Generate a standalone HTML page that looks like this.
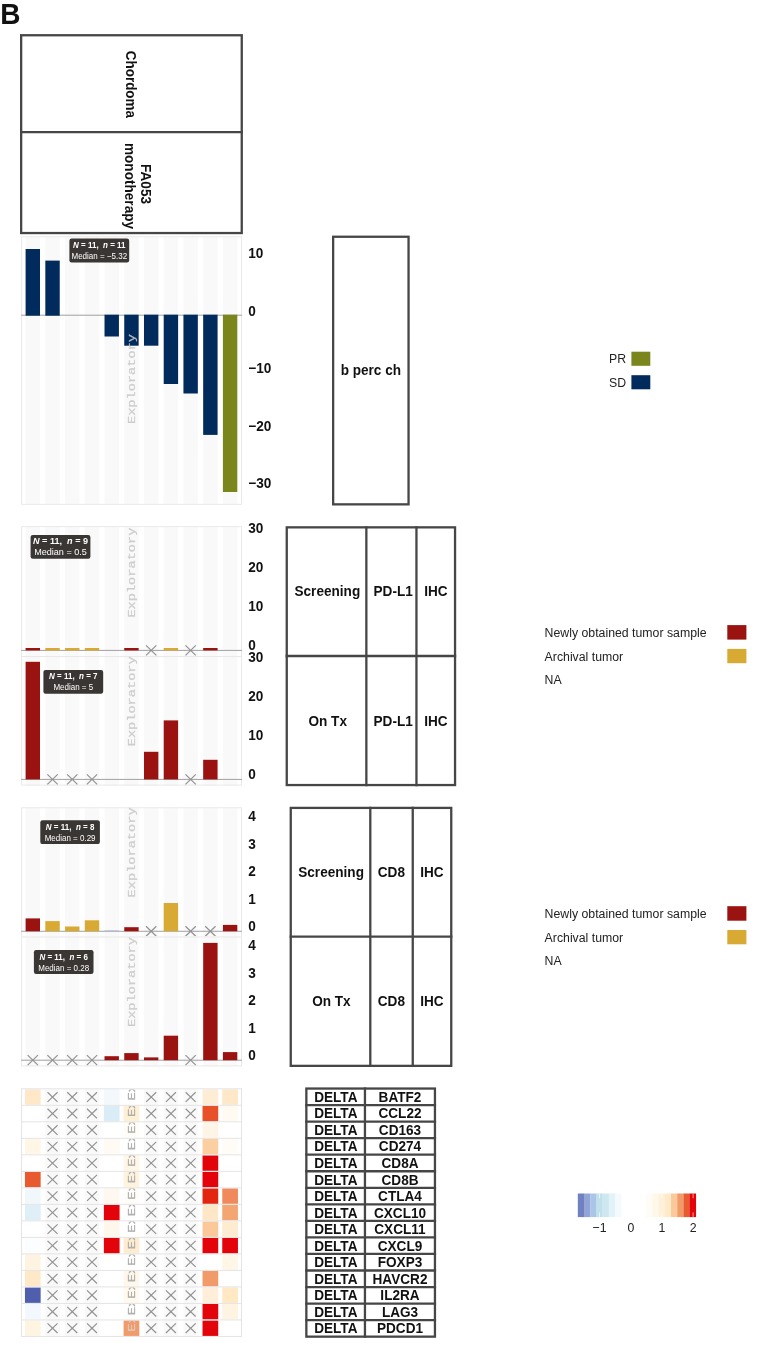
<!DOCTYPE html>
<html lang="en"><head><meta charset="utf-8"><title>Figure B</title>
<style>html,body{margin:0;padding:0;background:#fff}svg{display:block;will-change:transform}</style></head>
<body>
<svg width="783" height="1369" viewBox="0 0 783 1369">
<rect width="783" height="1369" fill="#fff"/>
<text transform="translate(0.20 23.60) scale(1 1.05)" font-family='"Liberation Sans", sans-serif' font-size="28.0" font-weight="bold" text-anchor="start" fill="#111">B</text>
<rect x="21.15" y="35.25" width="220.60" height="197.80" fill="#fff" stroke="#464646" stroke-width="2.3"/>
<line x1="20.00" y1="132.20" x2="242.90" y2="132.20" stroke="#464646" stroke-width="2.3"/>
<text transform="translate(126.2 50.8) rotate(90) scale(1 1.05)" font-family='"Liberation Sans", sans-serif' font-size="13.45" font-weight="bold" fill="#111">Chordoma</text>
<text transform="translate(140.9 184.0) rotate(90) scale(1 1.05)" font-family='"Liberation Sans", sans-serif' font-size="13.6" font-weight="bold" text-anchor="middle" fill="#111">FA053</text>
<text transform="translate(124.6 186.0) rotate(90) scale(1 1.05)" font-family='"Liberation Sans", sans-serif' font-size="13.6" font-weight="bold" text-anchor="middle" fill="#111">monotherapy</text>
<rect x="21.10" y="236.30" width="220.90" height="268.55" fill="#fff"/>
<rect x="25.60" y="236.30" width="14.40" height="268.55" fill="#f9f9f9"/>
<rect x="45.33" y="236.30" width="14.40" height="268.55" fill="#f9f9f9"/>
<rect x="65.06" y="236.30" width="14.40" height="268.55" fill="#f9f9f9"/>
<rect x="84.79" y="236.30" width="14.40" height="268.55" fill="#f9f9f9"/>
<rect x="104.52" y="236.30" width="14.40" height="268.55" fill="#f9f9f9"/>
<rect x="124.25" y="236.30" width="14.40" height="268.55" fill="#f9f9f9"/>
<rect x="143.98" y="236.30" width="14.40" height="268.55" fill="#f9f9f9"/>
<rect x="163.71" y="236.30" width="14.40" height="268.55" fill="#f9f9f9"/>
<rect x="183.44" y="236.30" width="14.40" height="268.55" fill="#f9f9f9"/>
<rect x="203.17" y="236.30" width="14.40" height="268.55" fill="#f9f9f9"/>
<rect x="222.90" y="236.30" width="14.40" height="268.55" fill="#f9f9f9"/>
<rect x="21.60" y="236.80" width="219.90" height="267.55" fill="none" stroke="#e9e9e9" stroke-width="1"/>
<line x1="21.10" y1="315.20" x2="242.00" y2="315.20" stroke="#a0a0a0" stroke-width="1.0"/>
<rect x="25.60" y="249.00" width="14.40" height="66.70" fill="#002b5c"/>
<rect x="45.33" y="260.60" width="14.40" height="55.10" fill="#002b5c"/>
<rect x="104.52" y="314.70" width="14.40" height="21.80" fill="#002b5c"/>
<rect x="124.25" y="314.70" width="14.40" height="31.00" fill="#002b5c"/>
<rect x="143.98" y="314.70" width="14.40" height="31.00" fill="#002b5c"/>
<rect x="163.71" y="314.70" width="14.40" height="69.30" fill="#002b5c"/>
<rect x="183.44" y="314.70" width="14.40" height="78.80" fill="#002b5c"/>
<rect x="203.17" y="314.70" width="14.40" height="120.20" fill="#002b5c"/>
<rect x="222.90" y="314.70" width="14.40" height="177.30" fill="#7a861c"/>
<clipPath id="c1"><rect x="21.1" y="236.30" width="220.9" height="190.70"/></clipPath>
<g clip-path="url(#c1)"><text transform="translate(135.40 424.00) rotate(-90) scale(1.1 0.88)" font-family='"Liberation Mono", monospace' font-size="12.4" fill="#c9c9c9" fill-opacity="0.9" stroke="#c9c9c9" stroke-width="0.25" stroke-opacity="0.9">Exploratory</text></g>
<rect x="69.40" y="238.60" width="59.80" height="23.80" rx="2.2" ry="2.2" fill="#3a3634"/>
<text transform="translate(99.30 247.80) scale(0.965 1.05)" font-family='"Liberation Sans", sans-serif' font-size="8.3" font-weight="bold" text-anchor="middle" fill="#fff" xml:space="preserve"><tspan font-style="italic">N</tspan> = 11,  <tspan font-style="italic">n</tspan> = 11</text>
<text transform="translate(99.30 258.80) scale(0.965 1.05)" font-family='"Liberation Sans", sans-serif' font-size="8.3" text-anchor="middle" fill="#fff">Median = −5.32</text>
<text transform="translate(248.30 257.90) scale(1 1.05)" font-family='"Liberation Sans", sans-serif' font-size="13.6" font-weight="bold" text-anchor="start" fill="#111">10</text>
<text transform="translate(248.30 315.50) scale(1 1.05)" font-family='"Liberation Sans", sans-serif' font-size="13.6" font-weight="bold" text-anchor="start" fill="#111">0</text>
<text transform="translate(248.30 373.10) scale(1 1.05)" font-family='"Liberation Sans", sans-serif' font-size="13.6" font-weight="bold" text-anchor="start" fill="#111">−10</text>
<text transform="translate(248.30 430.60) scale(1 1.05)" font-family='"Liberation Sans", sans-serif' font-size="13.6" font-weight="bold" text-anchor="start" fill="#111">−20</text>
<text transform="translate(248.30 488.20) scale(1 1.05)" font-family='"Liberation Sans", sans-serif' font-size="13.6" font-weight="bold" text-anchor="start" fill="#111">−30</text>
<rect x="333.15" y="236.75" width="75.40" height="267.60" fill="#fff" stroke="#464646" stroke-width="2.3"/>
<text transform="translate(370.85 375.40) scale(1 1.05)" font-family='"Liberation Sans", sans-serif' font-size="13.6" font-weight="bold" text-anchor="middle" fill="#111">b perc ch</text>
<text transform="translate(609.00 362.90) scale(1 1.05)" font-family='"Liberation Sans", sans-serif' font-size="12.3" font-weight="normal" text-anchor="start" fill="#222">PR</text>
<text transform="translate(609.00 386.50) scale(1 1.05)" font-family='"Liberation Sans", sans-serif' font-size="12.3" font-weight="normal" text-anchor="start" fill="#222">SD</text>
<rect x="631.40" y="351.70" width="18.90" height="14.10" fill="#7a861c"/>
<rect x="631.40" y="375.20" width="18.90" height="14.10" fill="#002b5c"/>
<rect x="21.10" y="526.15" width="220.90" height="130.90" fill="#fff"/>
<rect x="25.60" y="526.15" width="14.40" height="130.90" fill="#f9f9f9"/>
<rect x="45.33" y="526.15" width="14.40" height="130.90" fill="#f9f9f9"/>
<rect x="65.06" y="526.15" width="14.40" height="130.90" fill="#f9f9f9"/>
<rect x="84.79" y="526.15" width="14.40" height="130.90" fill="#f9f9f9"/>
<rect x="104.52" y="526.15" width="14.40" height="130.90" fill="#f9f9f9"/>
<rect x="124.25" y="526.15" width="14.40" height="130.90" fill="#f9f9f9"/>
<rect x="143.98" y="526.15" width="14.40" height="130.90" fill="#f9f9f9"/>
<rect x="163.71" y="526.15" width="14.40" height="130.90" fill="#f9f9f9"/>
<rect x="183.44" y="526.15" width="14.40" height="130.90" fill="#f9f9f9"/>
<rect x="203.17" y="526.15" width="14.40" height="130.90" fill="#f9f9f9"/>
<rect x="222.90" y="526.15" width="14.40" height="130.90" fill="#f9f9f9"/>
<rect x="21.60" y="526.65" width="219.90" height="129.90" fill="none" stroke="#e9e9e9" stroke-width="1"/>
<line x1="21.10" y1="650.40" x2="242.00" y2="650.40" stroke="#a0a0a0" stroke-width="1.0"/>
<rect x="25.60" y="648.00" width="14.40" height="2.40" fill="#9b1310"/>
<rect x="45.33" y="648.00" width="14.40" height="2.40" fill="#d9aa33"/>
<rect x="65.06" y="648.00" width="14.40" height="2.40" fill="#d9aa33"/>
<rect x="84.79" y="648.00" width="14.40" height="2.40" fill="#d9aa33"/>
<rect x="124.25" y="648.00" width="14.40" height="2.40" fill="#9b1310"/>
<rect x="163.71" y="648.00" width="14.40" height="2.40" fill="#d9aa33"/>
<rect x="203.17" y="648.00" width="14.40" height="2.40" fill="#9b1310"/>
<path d="M146.03 645.40L156.33 655.40M146.03 655.40L156.33 645.40" stroke="#909090" stroke-width="1.15" fill="none"/>
<path d="M185.49 645.40L195.79 655.40M185.49 655.40L195.79 645.40" stroke="#909090" stroke-width="1.15" fill="none"/>
<clipPath id="c2"><rect x="21.1" y="526.15" width="220.9" height="94.45"/></clipPath>
<g clip-path="url(#c2)"><text transform="translate(135.40 617.60) rotate(-90) scale(1.1 0.88)" font-family='"Liberation Mono", monospace' font-size="12.4" fill="#c9c9c9" fill-opacity="0.9" stroke="#c9c9c9" stroke-width="0.25" stroke-opacity="0.9">Exploratory</text></g>
<rect x="30.60" y="534.90" width="59.80" height="23.90" rx="2.2" ry="2.2" fill="#3a3634"/>
<text transform="translate(60.50 543.90) scale(1.095 1.05)" font-family='"Liberation Sans", sans-serif' font-size="8.3" font-weight="bold" text-anchor="middle" fill="#fff" xml:space="preserve"><tspan font-style="italic">N</tspan> = 11,  <tspan font-style="italic">n</tspan> = 9</text>
<text transform="translate(60.50 555.00) scale(1.095 1.05)" font-family='"Liberation Sans", sans-serif' font-size="8.3" text-anchor="middle" fill="#fff">Median = 0.5</text>
<text transform="translate(248.30 532.90) scale(1 1.05)" font-family='"Liberation Sans", sans-serif' font-size="13.6" font-weight="bold" text-anchor="start" fill="#111">30</text>
<text transform="translate(248.30 572.00) scale(1 1.05)" font-family='"Liberation Sans", sans-serif' font-size="13.6" font-weight="bold" text-anchor="start" fill="#111">20</text>
<text transform="translate(248.30 611.10) scale(1 1.05)" font-family='"Liberation Sans", sans-serif' font-size="13.6" font-weight="bold" text-anchor="start" fill="#111">10</text>
<text transform="translate(248.30 650.20) scale(1 1.05)" font-family='"Liberation Sans", sans-serif' font-size="13.6" font-weight="bold" text-anchor="start" fill="#111">0</text>
<rect x="21.10" y="656.05" width="220.90" height="129.55" fill="#fff"/>
<rect x="25.60" y="656.05" width="14.40" height="129.55" fill="#f9f9f9"/>
<rect x="45.33" y="656.05" width="14.40" height="129.55" fill="#f9f9f9"/>
<rect x="65.06" y="656.05" width="14.40" height="129.55" fill="#f9f9f9"/>
<rect x="84.79" y="656.05" width="14.40" height="129.55" fill="#f9f9f9"/>
<rect x="104.52" y="656.05" width="14.40" height="129.55" fill="#f9f9f9"/>
<rect x="124.25" y="656.05" width="14.40" height="129.55" fill="#f9f9f9"/>
<rect x="143.98" y="656.05" width="14.40" height="129.55" fill="#f9f9f9"/>
<rect x="163.71" y="656.05" width="14.40" height="129.55" fill="#f9f9f9"/>
<rect x="183.44" y="656.05" width="14.40" height="129.55" fill="#f9f9f9"/>
<rect x="203.17" y="656.05" width="14.40" height="129.55" fill="#f9f9f9"/>
<rect x="222.90" y="656.05" width="14.40" height="129.55" fill="#f9f9f9"/>
<rect x="21.60" y="656.55" width="219.90" height="128.55" fill="none" stroke="#e9e9e9" stroke-width="1"/>
<line x1="21.10" y1="779.40" x2="242.00" y2="779.40" stroke="#a0a0a0" stroke-width="1.0"/>
<rect x="25.60" y="661.80" width="14.40" height="117.60" fill="#9b1310"/>
<rect x="143.98" y="751.80" width="14.40" height="27.60" fill="#9b1310"/>
<rect x="163.71" y="720.40" width="14.40" height="59.00" fill="#9b1310"/>
<rect x="203.17" y="759.80" width="14.40" height="19.60" fill="#9b1310"/>
<path d="M47.38 774.40L57.68 784.40M47.38 784.40L57.68 774.40" stroke="#909090" stroke-width="1.15" fill="none"/>
<path d="M67.11 774.40L77.41 784.40M67.11 784.40L77.41 774.40" stroke="#909090" stroke-width="1.15" fill="none"/>
<path d="M86.84 774.40L97.14 784.40M86.84 784.40L97.14 774.40" stroke="#909090" stroke-width="1.15" fill="none"/>
<path d="M185.49 774.40L195.79 784.40M185.49 784.40L195.79 774.40" stroke="#909090" stroke-width="1.15" fill="none"/>
<clipPath id="c3"><rect x="21.1" y="656.05" width="220.9" height="93.25"/></clipPath>
<g clip-path="url(#c3)"><text transform="translate(135.40 746.30) rotate(-90) scale(1.1 0.88)" font-family='"Liberation Mono", monospace' font-size="12.4" fill="#c9c9c9" fill-opacity="0.9" stroke="#c9c9c9" stroke-width="0.25" stroke-opacity="0.9">Exploratory</text></g>
<rect x="43.40" y="669.90" width="59.80" height="23.90" rx="2.2" ry="2.2" fill="#3a3634"/>
<text transform="translate(73.30 679.30) scale(0.965 1.05)" font-family='"Liberation Sans", sans-serif' font-size="8.3" font-weight="bold" text-anchor="middle" fill="#fff" xml:space="preserve"><tspan font-style="italic">N</tspan> = 11,  <tspan font-style="italic">n</tspan> = 7</text>
<text transform="translate(73.30 690.00) scale(0.965 1.05)" font-family='"Liberation Sans", sans-serif' font-size="8.3" text-anchor="middle" fill="#fff">Median = 5</text>
<text transform="translate(248.30 662.10) scale(1 1.05)" font-family='"Liberation Sans", sans-serif' font-size="13.6" font-weight="bold" text-anchor="start" fill="#111">30</text>
<text transform="translate(248.30 700.90) scale(1 1.05)" font-family='"Liberation Sans", sans-serif' font-size="13.6" font-weight="bold" text-anchor="start" fill="#111">20</text>
<text transform="translate(248.30 739.80) scale(1 1.05)" font-family='"Liberation Sans", sans-serif' font-size="13.6" font-weight="bold" text-anchor="start" fill="#111">10</text>
<text transform="translate(248.30 778.60) scale(1 1.05)" font-family='"Liberation Sans", sans-serif' font-size="13.6" font-weight="bold" text-anchor="start" fill="#111">0</text>
<rect x="286.75" y="527.35" width="168.30" height="257.70" fill="#fff" stroke="#464646" stroke-width="2.3"/>
<line x1="285.60" y1="656.00" x2="456.20" y2="656.00" stroke="#464646" stroke-width="2.3"/>
<line x1="366.35" y1="526.20" x2="366.35" y2="786.20" stroke="#464646" stroke-width="2.3"/>
<line x1="416.45" y1="526.20" x2="416.45" y2="786.20" stroke="#464646" stroke-width="2.3"/>
<text transform="translate(327.35 596.20) scale(1 1.05)" font-family='"Liberation Sans", sans-serif' font-size="13.6" font-weight="bold" text-anchor="middle" fill="#111">Screening</text>
<text transform="translate(393.20 596.20) scale(1 1.05)" font-family='"Liberation Sans", sans-serif' font-size="13.6" font-weight="bold" text-anchor="middle" fill="#111">PD-L1</text>
<text transform="translate(435.85 596.20) scale(1 1.05)" font-family='"Liberation Sans", sans-serif' font-size="13.6" font-weight="bold" text-anchor="middle" fill="#111">IHC</text>
<text transform="translate(327.70 725.50) scale(1 1.05)" font-family='"Liberation Sans", sans-serif' font-size="13.6" font-weight="bold" text-anchor="middle" fill="#111">On Tx</text>
<text transform="translate(393.20 725.50) scale(1 1.05)" font-family='"Liberation Sans", sans-serif' font-size="13.6" font-weight="bold" text-anchor="middle" fill="#111">PD-L1</text>
<text transform="translate(435.85 725.50) scale(1 1.05)" font-family='"Liberation Sans", sans-serif' font-size="13.6" font-weight="bold" text-anchor="middle" fill="#111">IHC</text>
<text transform="translate(544.60 636.80) scale(1 1.05)" font-family='"Liberation Sans", sans-serif' font-size="12.3" font-weight="normal" text-anchor="start" fill="#222">Newly obtained tumor sample</text>
<text transform="translate(544.60 660.70) scale(1 1.05)" font-family='"Liberation Sans", sans-serif' font-size="12.3" font-weight="normal" text-anchor="start" fill="#222">Archival tumor</text>
<text transform="translate(544.60 684.00) scale(1 1.05)" font-family='"Liberation Sans", sans-serif' font-size="12.3" font-weight="normal" text-anchor="start" fill="#222">NA</text>
<rect x="727.30" y="625.10" width="19.10" height="14.50" fill="#9b1310"/>
<rect x="727.30" y="648.90" width="19.10" height="14.30" fill="#d9aa33"/>
<rect x="21.10" y="807.30" width="220.90" height="130.20" fill="#fff"/>
<rect x="25.60" y="807.30" width="14.40" height="130.20" fill="#f9f9f9"/>
<rect x="45.33" y="807.30" width="14.40" height="130.20" fill="#f9f9f9"/>
<rect x="65.06" y="807.30" width="14.40" height="130.20" fill="#f9f9f9"/>
<rect x="84.79" y="807.30" width="14.40" height="130.20" fill="#f9f9f9"/>
<rect x="104.52" y="807.30" width="14.40" height="130.20" fill="#f9f9f9"/>
<rect x="124.25" y="807.30" width="14.40" height="130.20" fill="#f9f9f9"/>
<rect x="143.98" y="807.30" width="14.40" height="130.20" fill="#f9f9f9"/>
<rect x="163.71" y="807.30" width="14.40" height="130.20" fill="#f9f9f9"/>
<rect x="183.44" y="807.30" width="14.40" height="130.20" fill="#f9f9f9"/>
<rect x="203.17" y="807.30" width="14.40" height="130.20" fill="#f9f9f9"/>
<rect x="222.90" y="807.30" width="14.40" height="130.20" fill="#f9f9f9"/>
<rect x="21.60" y="807.80" width="219.90" height="129.20" fill="none" stroke="#e9e9e9" stroke-width="1"/>
<line x1="21.10" y1="931.25" x2="242.00" y2="931.25" stroke="#a0a0a0" stroke-width="1.0"/>
<rect x="25.60" y="918.40" width="14.40" height="12.85" fill="#9b1310"/>
<rect x="45.33" y="921.10" width="14.40" height="10.15" fill="#d9aa33"/>
<rect x="65.06" y="926.50" width="14.40" height="4.75" fill="#d9aa33"/>
<rect x="84.79" y="920.30" width="14.40" height="10.95" fill="#d9aa33"/>
<rect x="104.52" y="930.30" width="14.40" height="0.95" fill="#b9bfe3"/>
<rect x="124.25" y="927.20" width="14.40" height="4.05" fill="#9b1310"/>
<rect x="163.71" y="903.00" width="14.40" height="28.25" fill="#d9aa33"/>
<rect x="222.90" y="924.90" width="14.40" height="6.35" fill="#9b1310"/>
<path d="M146.03 926.25L156.33 936.25M146.03 936.25L156.33 926.25" stroke="#909090" stroke-width="1.15" fill="none"/>
<path d="M185.49 926.25L195.79 936.25M185.49 936.25L195.79 926.25" stroke="#909090" stroke-width="1.15" fill="none"/>
<path d="M205.22 926.25L215.52 936.25M205.22 936.25L215.52 926.25" stroke="#909090" stroke-width="1.15" fill="none"/>
<clipPath id="c4"><rect x="21.1" y="807.30" width="220.9" height="93.10"/></clipPath>
<g clip-path="url(#c4)"><text transform="translate(135.40 897.40) rotate(-90) scale(1.1 0.88)" font-family='"Liberation Mono", monospace' font-size="12.4" fill="#c9c9c9" fill-opacity="0.9" stroke="#c9c9c9" stroke-width="0.25" stroke-opacity="0.9">Exploratory</text></g>
<rect x="40.30" y="820.30" width="59.60" height="23.80" rx="2.2" ry="2.2" fill="#3a3634"/>
<text transform="translate(70.10 829.60) scale(0.965 1.05)" font-family='"Liberation Sans", sans-serif' font-size="8.3" font-weight="bold" text-anchor="middle" fill="#fff" xml:space="preserve"><tspan font-style="italic">N</tspan> = 11,  <tspan font-style="italic">n</tspan> = 8</text>
<text transform="translate(70.10 840.60) scale(0.965 1.05)" font-family='"Liberation Sans", sans-serif' font-size="8.3" text-anchor="middle" fill="#fff">Median = 0.29</text>
<text transform="translate(248.30 820.80) scale(1 1.05)" font-family='"Liberation Sans", sans-serif' font-size="13.6" font-weight="bold" text-anchor="start" fill="#111">4</text>
<text transform="translate(248.30 848.60) scale(1 1.05)" font-family='"Liberation Sans", sans-serif' font-size="13.6" font-weight="bold" text-anchor="start" fill="#111">3</text>
<text transform="translate(248.30 876.00) scale(1 1.05)" font-family='"Liberation Sans", sans-serif' font-size="13.6" font-weight="bold" text-anchor="start" fill="#111">2</text>
<text transform="translate(248.30 903.60) scale(1 1.05)" font-family='"Liberation Sans", sans-serif' font-size="13.6" font-weight="bold" text-anchor="start" fill="#111">1</text>
<text transform="translate(248.30 931.10) scale(1 1.05)" font-family='"Liberation Sans", sans-serif' font-size="13.6" font-weight="bold" text-anchor="start" fill="#111">0</text>
<rect x="21.10" y="936.50" width="220.90" height="129.90" fill="#fff"/>
<rect x="25.60" y="936.50" width="14.40" height="129.90" fill="#f9f9f9"/>
<rect x="45.33" y="936.50" width="14.40" height="129.90" fill="#f9f9f9"/>
<rect x="65.06" y="936.50" width="14.40" height="129.90" fill="#f9f9f9"/>
<rect x="84.79" y="936.50" width="14.40" height="129.90" fill="#f9f9f9"/>
<rect x="104.52" y="936.50" width="14.40" height="129.90" fill="#f9f9f9"/>
<rect x="124.25" y="936.50" width="14.40" height="129.90" fill="#f9f9f9"/>
<rect x="143.98" y="936.50" width="14.40" height="129.90" fill="#f9f9f9"/>
<rect x="163.71" y="936.50" width="14.40" height="129.90" fill="#f9f9f9"/>
<rect x="183.44" y="936.50" width="14.40" height="129.90" fill="#f9f9f9"/>
<rect x="203.17" y="936.50" width="14.40" height="129.90" fill="#f9f9f9"/>
<rect x="222.90" y="936.50" width="14.40" height="129.90" fill="#f9f9f9"/>
<rect x="21.60" y="937.00" width="219.90" height="128.90" fill="none" stroke="#e9e9e9" stroke-width="1"/>
<line x1="21.10" y1="1060.20" x2="242.00" y2="1060.20" stroke="#a0a0a0" stroke-width="1.0"/>
<rect x="104.52" y="1056.20" width="14.40" height="4.00" fill="#9b1310"/>
<rect x="124.25" y="1053.10" width="14.40" height="7.10" fill="#9b1310"/>
<rect x="143.98" y="1057.40" width="14.40" height="2.80" fill="#9b1310"/>
<rect x="163.71" y="1035.70" width="14.40" height="24.50" fill="#9b1310"/>
<rect x="203.17" y="942.90" width="14.40" height="117.30" fill="#9b1310"/>
<rect x="222.90" y="1052.10" width="14.40" height="8.10" fill="#9b1310"/>
<path d="M27.65 1055.20L37.95 1065.20M27.65 1065.20L37.95 1055.20" stroke="#909090" stroke-width="1.15" fill="none"/>
<path d="M47.38 1055.20L57.68 1065.20M47.38 1065.20L57.68 1055.20" stroke="#909090" stroke-width="1.15" fill="none"/>
<path d="M67.11 1055.20L77.41 1065.20M67.11 1065.20L77.41 1055.20" stroke="#909090" stroke-width="1.15" fill="none"/>
<path d="M86.84 1055.20L97.14 1065.20M86.84 1065.20L97.14 1055.20" stroke="#909090" stroke-width="1.15" fill="none"/>
<path d="M185.49 1055.20L195.79 1065.20M185.49 1065.20L195.79 1055.20" stroke="#909090" stroke-width="1.15" fill="none"/>
<clipPath id="c5"><rect x="21.1" y="936.50" width="220.9" height="93.50"/></clipPath>
<g clip-path="url(#c5)"><text transform="translate(135.40 1027.00) rotate(-90) scale(1.1 0.88)" font-family='"Liberation Mono", monospace' font-size="12.4" fill="#c9c9c9" fill-opacity="0.9" stroke="#c9c9c9" stroke-width="0.25" stroke-opacity="0.9">Exploratory</text></g>
<rect x="33.90" y="950.10" width="59.60" height="23.80" rx="2.2" ry="2.2" fill="#3a3634"/>
<text transform="translate(63.70 959.80) scale(0.965 1.05)" font-family='"Liberation Sans", sans-serif' font-size="8.3" font-weight="bold" text-anchor="middle" fill="#fff" xml:space="preserve"><tspan font-style="italic">N</tspan> = 11,  <tspan font-style="italic">n</tspan> = 6</text>
<text transform="translate(63.70 970.50) scale(0.965 1.05)" font-family='"Liberation Sans", sans-serif' font-size="8.3" text-anchor="middle" fill="#fff">Median = 0.28</text>
<text transform="translate(248.30 950.20) scale(1 1.05)" font-family='"Liberation Sans", sans-serif' font-size="13.6" font-weight="bold" text-anchor="start" fill="#111">4</text>
<text transform="translate(248.30 977.60) scale(1 1.05)" font-family='"Liberation Sans", sans-serif' font-size="13.6" font-weight="bold" text-anchor="start" fill="#111">3</text>
<text transform="translate(248.30 1005.00) scale(1 1.05)" font-family='"Liberation Sans", sans-serif' font-size="13.6" font-weight="bold" text-anchor="start" fill="#111">2</text>
<text transform="translate(248.30 1032.50) scale(1 1.05)" font-family='"Liberation Sans", sans-serif' font-size="13.6" font-weight="bold" text-anchor="start" fill="#111">1</text>
<text transform="translate(248.30 1059.90) scale(1 1.05)" font-family='"Liberation Sans", sans-serif' font-size="13.6" font-weight="bold" text-anchor="start" fill="#111">0</text>
<rect x="290.75" y="807.90" width="160.50" height="257.95" fill="#fff" stroke="#464646" stroke-width="2.3"/>
<line x1="289.60" y1="936.70" x2="452.40" y2="936.70" stroke="#464646" stroke-width="2.3"/>
<line x1="370.30" y1="806.75" x2="370.30" y2="1067.00" stroke="#464646" stroke-width="2.3"/>
<line x1="412.75" y1="806.75" x2="412.75" y2="1067.00" stroke="#464646" stroke-width="2.3"/>
<text transform="translate(331.10 877.10) scale(1 1.05)" font-family='"Liberation Sans", sans-serif' font-size="13.6" font-weight="bold" text-anchor="middle" fill="#111">Screening</text>
<text transform="translate(391.40 877.10) scale(1 1.05)" font-family='"Liberation Sans", sans-serif' font-size="13.6" font-weight="bold" text-anchor="middle" fill="#111">CD8</text>
<text transform="translate(431.95 877.10) scale(1 1.05)" font-family='"Liberation Sans", sans-serif' font-size="13.6" font-weight="bold" text-anchor="middle" fill="#111">IHC</text>
<text transform="translate(331.40 1006.20) scale(1 1.05)" font-family='"Liberation Sans", sans-serif' font-size="13.6" font-weight="bold" text-anchor="middle" fill="#111">On Tx</text>
<text transform="translate(391.40 1006.20) scale(1 1.05)" font-family='"Liberation Sans", sans-serif' font-size="13.6" font-weight="bold" text-anchor="middle" fill="#111">CD8</text>
<text transform="translate(431.95 1006.20) scale(1 1.05)" font-family='"Liberation Sans", sans-serif' font-size="13.6" font-weight="bold" text-anchor="middle" fill="#111">IHC</text>
<text transform="translate(544.60 917.90) scale(1 1.05)" font-family='"Liberation Sans", sans-serif' font-size="12.3" font-weight="normal" text-anchor="start" fill="#222">Newly obtained tumor sample</text>
<text transform="translate(544.60 941.80) scale(1 1.05)" font-family='"Liberation Sans", sans-serif' font-size="12.3" font-weight="normal" text-anchor="start" fill="#222">Archival tumor</text>
<text transform="translate(544.60 965.10) scale(1 1.05)" font-family='"Liberation Sans", sans-serif' font-size="12.3" font-weight="normal" text-anchor="start" fill="#222">NA</text>
<rect x="727.30" y="906.20" width="19.10" height="14.50" fill="#9b1310"/>
<rect x="727.30" y="930.00" width="19.10" height="14.30" fill="#d9aa33"/>
<rect x="21.10" y="1088.80" width="220.90" height="247.65" fill="#fff"/>
<rect x="45.33" y="1088.80" width="14.40" height="247.65" fill="#f9f9f9"/>
<rect x="65.06" y="1088.80" width="14.40" height="247.65" fill="#f9f9f9"/>
<rect x="84.79" y="1088.80" width="14.40" height="247.65" fill="#f9f9f9"/>
<rect x="143.98" y="1088.80" width="14.40" height="247.65" fill="#f9f9f9"/>
<rect x="163.71" y="1088.80" width="14.40" height="247.65" fill="#f9f9f9"/>
<rect x="183.44" y="1088.80" width="14.40" height="247.65" fill="#f9f9f9"/>
<rect x="24.95" y="1089.30" width="15.70" height="15.51" fill="#fee8c8"/>
<rect x="103.87" y="1089.30" width="15.70" height="15.51" fill="#f2f8fc"/>
<rect x="202.52" y="1089.30" width="15.70" height="15.51" fill="#feedd6"/>
<rect x="222.25" y="1089.30" width="15.70" height="15.51" fill="#fee8c8"/>
<rect x="103.87" y="1105.81" width="15.70" height="15.51" fill="#daecf5"/>
<rect x="123.60" y="1105.81" width="15.70" height="15.51" fill="#fdf0d5"/>
<rect x="202.52" y="1105.81" width="15.70" height="15.51" fill="#e8502a"/>
<rect x="222.25" y="1105.81" width="15.70" height="15.51" fill="#fffaf2"/>
<rect x="123.60" y="1122.32" width="15.70" height="15.51" fill="#fffdf8"/>
<rect x="202.52" y="1122.32" width="15.70" height="15.51" fill="#fff5e6"/>
<rect x="24.95" y="1138.83" width="15.70" height="15.51" fill="#fff6e8"/>
<rect x="103.87" y="1138.83" width="15.70" height="15.51" fill="#fffaf3"/>
<rect x="202.52" y="1138.83" width="15.70" height="15.51" fill="#fccfa0"/>
<rect x="222.25" y="1138.83" width="15.70" height="15.51" fill="#fffcf8"/>
<rect x="123.60" y="1155.34" width="15.70" height="15.51" fill="#fff6e6"/>
<rect x="202.52" y="1155.34" width="15.70" height="15.51" fill="#e3040b"/>
<rect x="24.95" y="1171.85" width="15.70" height="15.51" fill="#e8592f"/>
<rect x="123.60" y="1171.85" width="15.70" height="15.51" fill="#fef3dc"/>
<rect x="202.52" y="1171.85" width="15.70" height="15.51" fill="#e3040b"/>
<rect x="24.95" y="1188.36" width="15.70" height="15.51" fill="#f1f8fc"/>
<rect x="103.87" y="1188.36" width="15.70" height="15.51" fill="#fff8f0"/>
<rect x="123.60" y="1188.36" width="15.70" height="15.51" fill="#fffdf9"/>
<rect x="202.52" y="1188.36" width="15.70" height="15.51" fill="#e2260f"/>
<rect x="222.25" y="1188.36" width="15.70" height="15.51" fill="#f08a5c"/>
<rect x="24.95" y="1204.87" width="15.70" height="15.51" fill="#deeff8"/>
<rect x="103.87" y="1204.87" width="15.70" height="15.51" fill="#e3040b"/>
<rect x="202.52" y="1204.87" width="15.70" height="15.51" fill="#fee7c6"/>
<rect x="222.25" y="1204.87" width="15.70" height="15.51" fill="#f4a672"/>
<rect x="103.87" y="1221.38" width="15.70" height="15.51" fill="#fef8ec"/>
<rect x="202.52" y="1221.38" width="15.70" height="15.51" fill="#fbc89a"/>
<rect x="222.25" y="1221.38" width="15.70" height="15.51" fill="#feecd0"/>
<rect x="24.95" y="1237.89" width="15.70" height="15.51" fill="#fbfdff"/>
<rect x="103.87" y="1237.89" width="15.70" height="15.51" fill="#e3040b"/>
<rect x="123.60" y="1237.89" width="15.70" height="15.51" fill="#feecd0"/>
<rect x="202.52" y="1237.89" width="15.70" height="15.51" fill="#e3040b"/>
<rect x="222.25" y="1237.89" width="15.70" height="15.51" fill="#e3040b"/>
<rect x="24.95" y="1254.40" width="15.70" height="15.51" fill="#fef3e0"/>
<rect x="222.25" y="1254.40" width="15.70" height="15.51" fill="#fff6e8"/>
<rect x="24.95" y="1270.91" width="15.70" height="15.51" fill="#fee8c8"/>
<rect x="123.60" y="1270.91" width="15.70" height="15.51" fill="#fff8ea"/>
<rect x="202.52" y="1270.91" width="15.70" height="15.51" fill="#f19a6a"/>
<rect x="24.95" y="1287.42" width="15.70" height="15.51" fill="#4f5fae"/>
<rect x="123.60" y="1287.42" width="15.70" height="15.51" fill="#fff9ee"/>
<rect x="202.52" y="1287.42" width="15.70" height="15.51" fill="#feeeda"/>
<rect x="222.25" y="1287.42" width="15.70" height="15.51" fill="#fee9c4"/>
<rect x="24.95" y="1303.93" width="15.70" height="15.51" fill="#f2f8fd"/>
<rect x="202.52" y="1303.93" width="15.70" height="15.51" fill="#e3040b"/>
<rect x="222.25" y="1303.93" width="15.70" height="15.51" fill="#fff3e2"/>
<rect x="24.95" y="1320.44" width="15.70" height="15.51" fill="#fef4e2"/>
<rect x="123.60" y="1320.44" width="15.70" height="15.51" fill="#f19a6a"/>
<rect x="202.52" y="1320.44" width="15.70" height="15.51" fill="#e3040b"/>
<line x1="21.10" y1="1088.80" x2="242.00" y2="1088.80" stroke="#e4e4e4" stroke-width="1.0"/>
<line x1="21.10" y1="1105.31" x2="242.00" y2="1105.31" stroke="#e4e4e4" stroke-width="1.0"/>
<line x1="21.10" y1="1121.82" x2="242.00" y2="1121.82" stroke="#e4e4e4" stroke-width="1.0"/>
<line x1="21.10" y1="1138.33" x2="242.00" y2="1138.33" stroke="#e4e4e4" stroke-width="1.0"/>
<line x1="21.10" y1="1154.84" x2="242.00" y2="1154.84" stroke="#e4e4e4" stroke-width="1.0"/>
<line x1="21.10" y1="1171.35" x2="242.00" y2="1171.35" stroke="#e4e4e4" stroke-width="1.0"/>
<line x1="21.10" y1="1187.86" x2="242.00" y2="1187.86" stroke="#e4e4e4" stroke-width="1.0"/>
<line x1="21.10" y1="1204.37" x2="242.00" y2="1204.37" stroke="#e4e4e4" stroke-width="1.0"/>
<line x1="21.10" y1="1220.88" x2="242.00" y2="1220.88" stroke="#e4e4e4" stroke-width="1.0"/>
<line x1="21.10" y1="1237.39" x2="242.00" y2="1237.39" stroke="#e4e4e4" stroke-width="1.0"/>
<line x1="21.10" y1="1253.90" x2="242.00" y2="1253.90" stroke="#e4e4e4" stroke-width="1.0"/>
<line x1="21.10" y1="1270.41" x2="242.00" y2="1270.41" stroke="#e4e4e4" stroke-width="1.0"/>
<line x1="21.10" y1="1286.92" x2="242.00" y2="1286.92" stroke="#e4e4e4" stroke-width="1.0"/>
<line x1="21.10" y1="1303.43" x2="242.00" y2="1303.43" stroke="#e4e4e4" stroke-width="1.0"/>
<line x1="21.10" y1="1319.94" x2="242.00" y2="1319.94" stroke="#e4e4e4" stroke-width="1.0"/>
<line x1="21.10" y1="1336.45" x2="242.00" y2="1336.45" stroke="#e4e4e4" stroke-width="1.0"/>
<line x1="21.60" y1="1088.80" x2="21.60" y2="1336.45" stroke="#e4e4e4" stroke-width="1.0"/>
<line x1="241.50" y1="1088.80" x2="241.50" y2="1336.45" stroke="#e4e4e4" stroke-width="1.0"/>
<path d="M47.53 1092.26L57.53 1101.86M47.53 1101.86L57.53 1092.26" stroke="#909090" stroke-width="1.15" fill="none"/>
<path d="M67.26 1092.26L77.26 1101.86M67.26 1101.86L77.26 1092.26" stroke="#909090" stroke-width="1.15" fill="none"/>
<path d="M86.99 1092.26L96.99 1101.86M86.99 1101.86L96.99 1092.26" stroke="#909090" stroke-width="1.15" fill="none"/>
<path d="M146.18 1092.26L156.18 1101.86M146.18 1101.86L156.18 1092.26" stroke="#909090" stroke-width="1.15" fill="none"/>
<path d="M165.91 1092.26L175.91 1101.86M165.91 1101.86L175.91 1092.26" stroke="#909090" stroke-width="1.15" fill="none"/>
<path d="M185.64 1092.26L195.64 1101.86M185.64 1101.86L195.64 1092.26" stroke="#909090" stroke-width="1.15" fill="none"/>
<clipPath id="c6"><rect x="120" y="1089.40" width="25" height="15.51"/></clipPath>
<g clip-path="url(#c6)"><text transform="translate(135.2 1100.61) rotate(-90) scale(1.1 0.88)" font-family='"Liberation Mono", monospace' font-size="12.4" fill="#a8a8a8" stroke="#a8a8a8" stroke-width="0.35" fill-opacity="0.9" stroke-opacity="0.9">Exploratory</text></g>
<path d="M47.53 1108.77L57.53 1118.37M47.53 1118.37L57.53 1108.77" stroke="#909090" stroke-width="1.15" fill="none"/>
<path d="M67.26 1108.77L77.26 1118.37M67.26 1118.37L77.26 1108.77" stroke="#909090" stroke-width="1.15" fill="none"/>
<path d="M86.99 1108.77L96.99 1118.37M86.99 1118.37L96.99 1108.77" stroke="#909090" stroke-width="1.15" fill="none"/>
<path d="M146.18 1108.77L156.18 1118.37M146.18 1118.37L156.18 1108.77" stroke="#909090" stroke-width="1.15" fill="none"/>
<path d="M165.91 1108.77L175.91 1118.37M165.91 1118.37L175.91 1108.77" stroke="#909090" stroke-width="1.15" fill="none"/>
<path d="M185.64 1108.77L195.64 1118.37M185.64 1118.37L195.64 1108.77" stroke="#909090" stroke-width="1.15" fill="none"/>
<clipPath id="c7"><rect x="120" y="1105.91" width="25" height="15.51"/></clipPath>
<g clip-path="url(#c7)"><text transform="translate(135.2 1117.12) rotate(-90) scale(1.1 0.88)" font-family='"Liberation Mono", monospace' font-size="12.4" fill="#a8a8a8" stroke="#a8a8a8" stroke-width="0.35" fill-opacity="0.9" stroke-opacity="0.9">Exploratory</text></g>
<path d="M47.53 1125.28L57.53 1134.88M47.53 1134.88L57.53 1125.28" stroke="#909090" stroke-width="1.15" fill="none"/>
<path d="M67.26 1125.28L77.26 1134.88M67.26 1134.88L77.26 1125.28" stroke="#909090" stroke-width="1.15" fill="none"/>
<path d="M86.99 1125.28L96.99 1134.88M86.99 1134.88L96.99 1125.28" stroke="#909090" stroke-width="1.15" fill="none"/>
<path d="M146.18 1125.28L156.18 1134.88M146.18 1134.88L156.18 1125.28" stroke="#909090" stroke-width="1.15" fill="none"/>
<path d="M165.91 1125.28L175.91 1134.88M165.91 1134.88L175.91 1125.28" stroke="#909090" stroke-width="1.15" fill="none"/>
<path d="M185.64 1125.28L195.64 1134.88M185.64 1134.88L195.64 1125.28" stroke="#909090" stroke-width="1.15" fill="none"/>
<clipPath id="c8"><rect x="120" y="1122.42" width="25" height="15.51"/></clipPath>
<g clip-path="url(#c8)"><text transform="translate(135.2 1133.63) rotate(-90) scale(1.1 0.88)" font-family='"Liberation Mono", monospace' font-size="12.4" fill="#a8a8a8" stroke="#a8a8a8" stroke-width="0.35" fill-opacity="0.9" stroke-opacity="0.9">Exploratory</text></g>
<path d="M47.53 1141.79L57.53 1151.38M47.53 1151.38L57.53 1141.79" stroke="#909090" stroke-width="1.15" fill="none"/>
<path d="M67.26 1141.79L77.26 1151.38M67.26 1151.38L77.26 1141.79" stroke="#909090" stroke-width="1.15" fill="none"/>
<path d="M86.99 1141.79L96.99 1151.38M86.99 1151.38L96.99 1141.79" stroke="#909090" stroke-width="1.15" fill="none"/>
<path d="M146.18 1141.79L156.18 1151.38M146.18 1151.38L156.18 1141.79" stroke="#909090" stroke-width="1.15" fill="none"/>
<path d="M165.91 1141.79L175.91 1151.38M165.91 1151.38L175.91 1141.79" stroke="#909090" stroke-width="1.15" fill="none"/>
<path d="M185.64 1141.79L195.64 1151.38M185.64 1151.38L195.64 1141.79" stroke="#909090" stroke-width="1.15" fill="none"/>
<clipPath id="c9"><rect x="120" y="1138.93" width="25" height="15.51"/></clipPath>
<g clip-path="url(#c9)"><text transform="translate(135.2 1150.14) rotate(-90) scale(1.1 0.88)" font-family='"Liberation Mono", monospace' font-size="12.4" fill="#a8a8a8" stroke="#a8a8a8" stroke-width="0.35" fill-opacity="0.9" stroke-opacity="0.9">Exploratory</text></g>
<path d="M47.53 1158.30L57.53 1167.89M47.53 1167.89L57.53 1158.30" stroke="#909090" stroke-width="1.15" fill="none"/>
<path d="M67.26 1158.30L77.26 1167.89M67.26 1167.89L77.26 1158.30" stroke="#909090" stroke-width="1.15" fill="none"/>
<path d="M86.99 1158.30L96.99 1167.89M86.99 1167.89L96.99 1158.30" stroke="#909090" stroke-width="1.15" fill="none"/>
<path d="M146.18 1158.30L156.18 1167.89M146.18 1167.89L156.18 1158.30" stroke="#909090" stroke-width="1.15" fill="none"/>
<path d="M165.91 1158.30L175.91 1167.89M165.91 1167.89L175.91 1158.30" stroke="#909090" stroke-width="1.15" fill="none"/>
<path d="M185.64 1158.30L195.64 1167.89M185.64 1167.89L195.64 1158.30" stroke="#909090" stroke-width="1.15" fill="none"/>
<clipPath id="c10"><rect x="120" y="1155.44" width="25" height="15.51"/></clipPath>
<g clip-path="url(#c10)"><text transform="translate(135.2 1166.65) rotate(-90) scale(1.1 0.88)" font-family='"Liberation Mono", monospace' font-size="12.4" fill="#a8a8a8" stroke="#a8a8a8" stroke-width="0.35" fill-opacity="0.9" stroke-opacity="0.9">Exploratory</text></g>
<path d="M47.53 1174.81L57.53 1184.40M47.53 1184.40L57.53 1174.81" stroke="#909090" stroke-width="1.15" fill="none"/>
<path d="M67.26 1174.81L77.26 1184.40M67.26 1184.40L77.26 1174.81" stroke="#909090" stroke-width="1.15" fill="none"/>
<path d="M86.99 1174.81L96.99 1184.40M86.99 1184.40L96.99 1174.81" stroke="#909090" stroke-width="1.15" fill="none"/>
<path d="M146.18 1174.81L156.18 1184.40M146.18 1184.40L156.18 1174.81" stroke="#909090" stroke-width="1.15" fill="none"/>
<path d="M165.91 1174.81L175.91 1184.40M165.91 1184.40L175.91 1174.81" stroke="#909090" stroke-width="1.15" fill="none"/>
<path d="M185.64 1174.81L195.64 1184.40M185.64 1184.40L195.64 1174.81" stroke="#909090" stroke-width="1.15" fill="none"/>
<clipPath id="c11"><rect x="120" y="1171.95" width="25" height="15.51"/></clipPath>
<g clip-path="url(#c11)"><text transform="translate(135.2 1183.16) rotate(-90) scale(1.1 0.88)" font-family='"Liberation Mono", monospace' font-size="12.4" fill="#a8a8a8" stroke="#a8a8a8" stroke-width="0.35" fill-opacity="0.9" stroke-opacity="0.9">Exploratory</text></g>
<path d="M47.53 1191.32L57.53 1200.91M47.53 1200.91L57.53 1191.32" stroke="#909090" stroke-width="1.15" fill="none"/>
<path d="M67.26 1191.32L77.26 1200.91M67.26 1200.91L77.26 1191.32" stroke="#909090" stroke-width="1.15" fill="none"/>
<path d="M86.99 1191.32L96.99 1200.91M86.99 1200.91L96.99 1191.32" stroke="#909090" stroke-width="1.15" fill="none"/>
<path d="M146.18 1191.32L156.18 1200.91M146.18 1200.91L156.18 1191.32" stroke="#909090" stroke-width="1.15" fill="none"/>
<path d="M165.91 1191.32L175.91 1200.91M165.91 1200.91L175.91 1191.32" stroke="#909090" stroke-width="1.15" fill="none"/>
<path d="M185.64 1191.32L195.64 1200.91M185.64 1200.91L195.64 1191.32" stroke="#909090" stroke-width="1.15" fill="none"/>
<clipPath id="c12"><rect x="120" y="1188.46" width="25" height="15.51"/></clipPath>
<g clip-path="url(#c12)"><text transform="translate(135.2 1199.67) rotate(-90) scale(1.1 0.88)" font-family='"Liberation Mono", monospace' font-size="12.4" fill="#a8a8a8" stroke="#a8a8a8" stroke-width="0.35" fill-opacity="0.9" stroke-opacity="0.9">Exploratory</text></g>
<path d="M47.53 1207.83L57.53 1217.42M47.53 1217.42L57.53 1207.83" stroke="#909090" stroke-width="1.15" fill="none"/>
<path d="M67.26 1207.83L77.26 1217.42M67.26 1217.42L77.26 1207.83" stroke="#909090" stroke-width="1.15" fill="none"/>
<path d="M86.99 1207.83L96.99 1217.42M86.99 1217.42L96.99 1207.83" stroke="#909090" stroke-width="1.15" fill="none"/>
<path d="M146.18 1207.83L156.18 1217.42M146.18 1217.42L156.18 1207.83" stroke="#909090" stroke-width="1.15" fill="none"/>
<path d="M165.91 1207.83L175.91 1217.42M165.91 1217.42L175.91 1207.83" stroke="#909090" stroke-width="1.15" fill="none"/>
<path d="M185.64 1207.83L195.64 1217.42M185.64 1217.42L195.64 1207.83" stroke="#909090" stroke-width="1.15" fill="none"/>
<clipPath id="c13"><rect x="120" y="1204.97" width="25" height="15.51"/></clipPath>
<g clip-path="url(#c13)"><text transform="translate(135.2 1216.18) rotate(-90) scale(1.1 0.88)" font-family='"Liberation Mono", monospace' font-size="12.4" fill="#a8a8a8" stroke="#a8a8a8" stroke-width="0.35" fill-opacity="0.9" stroke-opacity="0.9">Exploratory</text></g>
<path d="M47.53 1224.34L57.53 1233.93M47.53 1233.93L57.53 1224.34" stroke="#909090" stroke-width="1.15" fill="none"/>
<path d="M67.26 1224.34L77.26 1233.93M67.26 1233.93L77.26 1224.34" stroke="#909090" stroke-width="1.15" fill="none"/>
<path d="M86.99 1224.34L96.99 1233.93M86.99 1233.93L96.99 1224.34" stroke="#909090" stroke-width="1.15" fill="none"/>
<path d="M146.18 1224.34L156.18 1233.93M146.18 1233.93L156.18 1224.34" stroke="#909090" stroke-width="1.15" fill="none"/>
<path d="M165.91 1224.34L175.91 1233.93M165.91 1233.93L175.91 1224.34" stroke="#909090" stroke-width="1.15" fill="none"/>
<path d="M185.64 1224.34L195.64 1233.93M185.64 1233.93L195.64 1224.34" stroke="#909090" stroke-width="1.15" fill="none"/>
<clipPath id="c14"><rect x="120" y="1221.48" width="25" height="15.51"/></clipPath>
<g clip-path="url(#c14)"><text transform="translate(135.2 1232.69) rotate(-90) scale(1.1 0.88)" font-family='"Liberation Mono", monospace' font-size="12.4" fill="#a8a8a8" stroke="#a8a8a8" stroke-width="0.35" fill-opacity="0.9" stroke-opacity="0.9">Exploratory</text></g>
<path d="M47.53 1240.85L57.53 1250.44M47.53 1250.44L57.53 1240.85" stroke="#909090" stroke-width="1.15" fill="none"/>
<path d="M67.26 1240.85L77.26 1250.44M67.26 1250.44L77.26 1240.85" stroke="#909090" stroke-width="1.15" fill="none"/>
<path d="M86.99 1240.85L96.99 1250.44M86.99 1250.44L96.99 1240.85" stroke="#909090" stroke-width="1.15" fill="none"/>
<path d="M146.18 1240.85L156.18 1250.44M146.18 1250.44L156.18 1240.85" stroke="#909090" stroke-width="1.15" fill="none"/>
<path d="M165.91 1240.85L175.91 1250.44M165.91 1250.44L175.91 1240.85" stroke="#909090" stroke-width="1.15" fill="none"/>
<path d="M185.64 1240.85L195.64 1250.44M185.64 1250.44L195.64 1240.85" stroke="#909090" stroke-width="1.15" fill="none"/>
<clipPath id="c15"><rect x="120" y="1237.99" width="25" height="15.51"/></clipPath>
<g clip-path="url(#c15)"><text transform="translate(135.2 1249.20) rotate(-90) scale(1.1 0.88)" font-family='"Liberation Mono", monospace' font-size="12.4" fill="#a8a8a8" stroke="#a8a8a8" stroke-width="0.35" fill-opacity="0.9" stroke-opacity="0.9">Exploratory</text></g>
<path d="M47.53 1257.36L57.53 1266.96M47.53 1266.96L57.53 1257.36" stroke="#909090" stroke-width="1.15" fill="none"/>
<path d="M67.26 1257.36L77.26 1266.96M67.26 1266.96L77.26 1257.36" stroke="#909090" stroke-width="1.15" fill="none"/>
<path d="M86.99 1257.36L96.99 1266.96M86.99 1266.96L96.99 1257.36" stroke="#909090" stroke-width="1.15" fill="none"/>
<path d="M146.18 1257.36L156.18 1266.96M146.18 1266.96L156.18 1257.36" stroke="#909090" stroke-width="1.15" fill="none"/>
<path d="M165.91 1257.36L175.91 1266.96M165.91 1266.96L175.91 1257.36" stroke="#909090" stroke-width="1.15" fill="none"/>
<path d="M185.64 1257.36L195.64 1266.96M185.64 1266.96L195.64 1257.36" stroke="#909090" stroke-width="1.15" fill="none"/>
<clipPath id="c16"><rect x="120" y="1254.50" width="25" height="15.51"/></clipPath>
<g clip-path="url(#c16)"><text transform="translate(135.2 1265.71) rotate(-90) scale(1.1 0.88)" font-family='"Liberation Mono", monospace' font-size="12.4" fill="#a8a8a8" stroke="#a8a8a8" stroke-width="0.35" fill-opacity="0.9" stroke-opacity="0.9">Exploratory</text></g>
<path d="M47.53 1273.87L57.53 1283.46M47.53 1283.46L57.53 1273.87" stroke="#909090" stroke-width="1.15" fill="none"/>
<path d="M67.26 1273.87L77.26 1283.46M67.26 1283.46L77.26 1273.87" stroke="#909090" stroke-width="1.15" fill="none"/>
<path d="M86.99 1273.87L96.99 1283.46M86.99 1283.46L96.99 1273.87" stroke="#909090" stroke-width="1.15" fill="none"/>
<path d="M146.18 1273.87L156.18 1283.46M146.18 1283.46L156.18 1273.87" stroke="#909090" stroke-width="1.15" fill="none"/>
<path d="M165.91 1273.87L175.91 1283.46M165.91 1283.46L175.91 1273.87" stroke="#909090" stroke-width="1.15" fill="none"/>
<path d="M185.64 1273.87L195.64 1283.46M185.64 1283.46L195.64 1273.87" stroke="#909090" stroke-width="1.15" fill="none"/>
<clipPath id="c17"><rect x="120" y="1271.01" width="25" height="15.51"/></clipPath>
<g clip-path="url(#c17)"><text transform="translate(135.2 1282.22) rotate(-90) scale(1.1 0.88)" font-family='"Liberation Mono", monospace' font-size="12.4" fill="#a8a8a8" stroke="#a8a8a8" stroke-width="0.35" fill-opacity="0.9" stroke-opacity="0.9">Exploratory</text></g>
<path d="M47.53 1290.38L57.53 1299.98M47.53 1299.98L57.53 1290.38" stroke="#909090" stroke-width="1.15" fill="none"/>
<path d="M67.26 1290.38L77.26 1299.98M67.26 1299.98L77.26 1290.38" stroke="#909090" stroke-width="1.15" fill="none"/>
<path d="M86.99 1290.38L96.99 1299.98M86.99 1299.98L96.99 1290.38" stroke="#909090" stroke-width="1.15" fill="none"/>
<path d="M146.18 1290.38L156.18 1299.98M146.18 1299.98L156.18 1290.38" stroke="#909090" stroke-width="1.15" fill="none"/>
<path d="M165.91 1290.38L175.91 1299.98M165.91 1299.98L175.91 1290.38" stroke="#909090" stroke-width="1.15" fill="none"/>
<path d="M185.64 1290.38L195.64 1299.98M185.64 1299.98L195.64 1290.38" stroke="#909090" stroke-width="1.15" fill="none"/>
<clipPath id="c18"><rect x="120" y="1287.52" width="25" height="15.51"/></clipPath>
<g clip-path="url(#c18)"><text transform="translate(135.2 1298.73) rotate(-90) scale(1.1 0.88)" font-family='"Liberation Mono", monospace' font-size="12.4" fill="#a8a8a8" stroke="#a8a8a8" stroke-width="0.35" fill-opacity="0.9" stroke-opacity="0.9">Exploratory</text></g>
<path d="M47.53 1306.89L57.53 1316.49M47.53 1316.49L57.53 1306.89" stroke="#909090" stroke-width="1.15" fill="none"/>
<path d="M67.26 1306.89L77.26 1316.49M67.26 1316.49L77.26 1306.89" stroke="#909090" stroke-width="1.15" fill="none"/>
<path d="M86.99 1306.89L96.99 1316.49M86.99 1316.49L96.99 1306.89" stroke="#909090" stroke-width="1.15" fill="none"/>
<path d="M146.18 1306.89L156.18 1316.49M146.18 1316.49L156.18 1306.89" stroke="#909090" stroke-width="1.15" fill="none"/>
<path d="M165.91 1306.89L175.91 1316.49M165.91 1316.49L175.91 1306.89" stroke="#909090" stroke-width="1.15" fill="none"/>
<path d="M185.64 1306.89L195.64 1316.49M185.64 1316.49L195.64 1306.89" stroke="#909090" stroke-width="1.15" fill="none"/>
<clipPath id="c19"><rect x="120" y="1304.03" width="25" height="15.51"/></clipPath>
<g clip-path="url(#c19)"><text transform="translate(135.2 1315.24) rotate(-90) scale(1.1 0.88)" font-family='"Liberation Mono", monospace' font-size="12.4" fill="#a8a8a8" stroke="#a8a8a8" stroke-width="0.35" fill-opacity="0.9" stroke-opacity="0.9">Exploratory</text></g>
<path d="M47.53 1323.40L57.53 1333.00M47.53 1333.00L57.53 1323.40" stroke="#909090" stroke-width="1.15" fill="none"/>
<path d="M67.26 1323.40L77.26 1333.00M67.26 1333.00L77.26 1323.40" stroke="#909090" stroke-width="1.15" fill="none"/>
<path d="M86.99 1323.40L96.99 1333.00M86.99 1333.00L96.99 1323.40" stroke="#909090" stroke-width="1.15" fill="none"/>
<path d="M146.18 1323.40L156.18 1333.00M146.18 1333.00L156.18 1323.40" stroke="#909090" stroke-width="1.15" fill="none"/>
<path d="M165.91 1323.40L175.91 1333.00M165.91 1333.00L175.91 1323.40" stroke="#909090" stroke-width="1.15" fill="none"/>
<path d="M185.64 1323.40L195.64 1333.00M185.64 1333.00L195.64 1323.40" stroke="#909090" stroke-width="1.15" fill="none"/>
<clipPath id="c20"><rect x="120" y="1320.54" width="25" height="15.51"/></clipPath>
<g clip-path="url(#c20)"><text transform="translate(135.2 1331.75) rotate(-90) scale(1.1 0.88)" font-family='"Liberation Mono", monospace' font-size="12.4" fill="#d9cdc6" stroke="#d9cdc6" stroke-width="0.35" fill-opacity="0.9" stroke-opacity="0.9">Exploratory</text></g>
<rect x="306.35" y="1088.55" width="128.60" height="248.10" fill="#fff" stroke="#464646" stroke-width="2.3"/>
<line x1="364.95" y1="1087.40" x2="364.95" y2="1337.80" stroke="#464646" stroke-width="2.3"/>
<text transform="translate(335.80 1101.80) scale(1 1.05)" font-family='"Liberation Sans", sans-serif' font-size="13.6" font-weight="bold" text-anchor="middle" fill="#111">DELTA</text>
<text transform="translate(400.00 1101.80) scale(1 1.05)" font-family='"Liberation Sans", sans-serif' font-size="13.6" font-weight="bold" text-anchor="middle" fill="#111">BATF2</text>
<line x1="305.20" y1="1105.09" x2="436.10" y2="1105.09" stroke="#464646" stroke-width="2.3"/>
<text transform="translate(335.80 1118.34) scale(1 1.05)" font-family='"Liberation Sans", sans-serif' font-size="13.6" font-weight="bold" text-anchor="middle" fill="#111">DELTA</text>
<text transform="translate(400.00 1118.34) scale(1 1.05)" font-family='"Liberation Sans", sans-serif' font-size="13.6" font-weight="bold" text-anchor="middle" fill="#111">CCL22</text>
<line x1="305.20" y1="1121.63" x2="436.10" y2="1121.63" stroke="#464646" stroke-width="2.3"/>
<text transform="translate(335.80 1134.88) scale(1 1.05)" font-family='"Liberation Sans", sans-serif' font-size="13.6" font-weight="bold" text-anchor="middle" fill="#111">DELTA</text>
<text transform="translate(400.00 1134.88) scale(1 1.05)" font-family='"Liberation Sans", sans-serif' font-size="13.6" font-weight="bold" text-anchor="middle" fill="#111">CD163</text>
<line x1="305.20" y1="1138.17" x2="436.10" y2="1138.17" stroke="#464646" stroke-width="2.3"/>
<text transform="translate(335.80 1151.42) scale(1 1.05)" font-family='"Liberation Sans", sans-serif' font-size="13.6" font-weight="bold" text-anchor="middle" fill="#111">DELTA</text>
<text transform="translate(400.00 1151.42) scale(1 1.05)" font-family='"Liberation Sans", sans-serif' font-size="13.6" font-weight="bold" text-anchor="middle" fill="#111">CD274</text>
<line x1="305.20" y1="1154.71" x2="436.10" y2="1154.71" stroke="#464646" stroke-width="2.3"/>
<text transform="translate(335.80 1167.96) scale(1 1.05)" font-family='"Liberation Sans", sans-serif' font-size="13.6" font-weight="bold" text-anchor="middle" fill="#111">DELTA</text>
<text transform="translate(400.00 1167.96) scale(1 1.05)" font-family='"Liberation Sans", sans-serif' font-size="13.6" font-weight="bold" text-anchor="middle" fill="#111">CD8A</text>
<line x1="305.20" y1="1171.25" x2="436.10" y2="1171.25" stroke="#464646" stroke-width="2.3"/>
<text transform="translate(335.80 1184.50) scale(1 1.05)" font-family='"Liberation Sans", sans-serif' font-size="13.6" font-weight="bold" text-anchor="middle" fill="#111">DELTA</text>
<text transform="translate(400.00 1184.50) scale(1 1.05)" font-family='"Liberation Sans", sans-serif' font-size="13.6" font-weight="bold" text-anchor="middle" fill="#111">CD8B</text>
<line x1="305.20" y1="1187.79" x2="436.10" y2="1187.79" stroke="#464646" stroke-width="2.3"/>
<text transform="translate(335.80 1201.04) scale(1 1.05)" font-family='"Liberation Sans", sans-serif' font-size="13.6" font-weight="bold" text-anchor="middle" fill="#111">DELTA</text>
<text transform="translate(400.00 1201.04) scale(1 1.05)" font-family='"Liberation Sans", sans-serif' font-size="13.6" font-weight="bold" text-anchor="middle" fill="#111">CTLA4</text>
<line x1="305.20" y1="1204.33" x2="436.10" y2="1204.33" stroke="#464646" stroke-width="2.3"/>
<text transform="translate(335.80 1217.58) scale(1 1.05)" font-family='"Liberation Sans", sans-serif' font-size="13.6" font-weight="bold" text-anchor="middle" fill="#111">DELTA</text>
<text transform="translate(400.00 1217.58) scale(1 1.05)" font-family='"Liberation Sans", sans-serif' font-size="13.6" font-weight="bold" text-anchor="middle" fill="#111">CXCL10</text>
<line x1="305.20" y1="1220.87" x2="436.10" y2="1220.87" stroke="#464646" stroke-width="2.3"/>
<text transform="translate(335.80 1234.12) scale(1 1.05)" font-family='"Liberation Sans", sans-serif' font-size="13.6" font-weight="bold" text-anchor="middle" fill="#111">DELTA</text>
<text transform="translate(400.00 1234.12) scale(1 1.05)" font-family='"Liberation Sans", sans-serif' font-size="13.6" font-weight="bold" text-anchor="middle" fill="#111">CXCL11</text>
<line x1="305.20" y1="1237.41" x2="436.10" y2="1237.41" stroke="#464646" stroke-width="2.3"/>
<text transform="translate(335.80 1250.66) scale(1 1.05)" font-family='"Liberation Sans", sans-serif' font-size="13.6" font-weight="bold" text-anchor="middle" fill="#111">DELTA</text>
<text transform="translate(400.00 1250.66) scale(1 1.05)" font-family='"Liberation Sans", sans-serif' font-size="13.6" font-weight="bold" text-anchor="middle" fill="#111">CXCL9</text>
<line x1="305.20" y1="1253.95" x2="436.10" y2="1253.95" stroke="#464646" stroke-width="2.3"/>
<text transform="translate(335.80 1267.20) scale(1 1.05)" font-family='"Liberation Sans", sans-serif' font-size="13.6" font-weight="bold" text-anchor="middle" fill="#111">DELTA</text>
<text transform="translate(400.00 1267.20) scale(1 1.05)" font-family='"Liberation Sans", sans-serif' font-size="13.6" font-weight="bold" text-anchor="middle" fill="#111">FOXP3</text>
<line x1="305.20" y1="1270.49" x2="436.10" y2="1270.49" stroke="#464646" stroke-width="2.3"/>
<text transform="translate(335.80 1283.74) scale(1 1.05)" font-family='"Liberation Sans", sans-serif' font-size="13.6" font-weight="bold" text-anchor="middle" fill="#111">DELTA</text>
<text transform="translate(400.00 1283.74) scale(1 1.05)" font-family='"Liberation Sans", sans-serif' font-size="13.6" font-weight="bold" text-anchor="middle" fill="#111">HAVCR2</text>
<line x1="305.20" y1="1287.03" x2="436.10" y2="1287.03" stroke="#464646" stroke-width="2.3"/>
<text transform="translate(335.80 1300.28) scale(1 1.05)" font-family='"Liberation Sans", sans-serif' font-size="13.6" font-weight="bold" text-anchor="middle" fill="#111">DELTA</text>
<text transform="translate(400.00 1300.28) scale(1 1.05)" font-family='"Liberation Sans", sans-serif' font-size="13.6" font-weight="bold" text-anchor="middle" fill="#111">IL2RA</text>
<line x1="305.20" y1="1303.57" x2="436.10" y2="1303.57" stroke="#464646" stroke-width="2.3"/>
<text transform="translate(335.80 1316.82) scale(1 1.05)" font-family='"Liberation Sans", sans-serif' font-size="13.6" font-weight="bold" text-anchor="middle" fill="#111">DELTA</text>
<text transform="translate(400.00 1316.82) scale(1 1.05)" font-family='"Liberation Sans", sans-serif' font-size="13.6" font-weight="bold" text-anchor="middle" fill="#111">LAG3</text>
<line x1="305.20" y1="1320.11" x2="436.10" y2="1320.11" stroke="#464646" stroke-width="2.3"/>
<text transform="translate(335.80 1333.36) scale(1 1.05)" font-family='"Liberation Sans", sans-serif' font-size="13.6" font-weight="bold" text-anchor="middle" fill="#111">DELTA</text>
<text transform="translate(400.00 1333.36) scale(1 1.05)" font-family='"Liberation Sans", sans-serif' font-size="13.6" font-weight="bold" text-anchor="middle" fill="#111">PDCD1</text>
<rect x="577.80" y="1193.50" width="6.37" height="23.60" fill="#7080c0"/>
<rect x="584.02" y="1193.50" width="6.37" height="23.60" fill="#92a5d6"/>
<rect x="590.23" y="1193.50" width="6.37" height="23.60" fill="#abc5e9"/>
<rect x="596.45" y="1193.50" width="6.37" height="23.60" fill="#c0e0ec"/>
<rect x="602.66" y="1193.50" width="6.37" height="23.60" fill="#cfe8f0"/>
<rect x="608.88" y="1193.50" width="6.37" height="23.60" fill="#e2f2f9"/>
<rect x="615.09" y="1193.50" width="6.37" height="23.60" fill="#f5fafe"/>
<rect x="646.17" y="1193.50" width="6.37" height="23.60" fill="#fffcf7"/>
<rect x="652.39" y="1193.50" width="6.37" height="23.60" fill="#fff7e8"/>
<rect x="658.61" y="1193.50" width="6.37" height="23.60" fill="#fff1d9"/>
<rect x="664.82" y="1193.50" width="6.37" height="23.60" fill="#feeac8"/>
<rect x="671.04" y="1193.50" width="6.37" height="23.60" fill="#fbc99b"/>
<rect x="677.25" y="1193.50" width="6.37" height="23.60" fill="#f29a68"/>
<rect x="683.47" y="1193.50" width="6.37" height="23.60" fill="#e85a30"/>
<rect x="689.68" y="1193.50" width="6.37" height="23.60" fill="#e3040b"/>
<path d="M599.50 1193.5v4.7M599.50 1217.1v-4.7" stroke="#fff" stroke-opacity="0.6" stroke-width="1"/>
<text transform="translate(599.50 1231.80) scale(1 1.05)" font-family='"Liberation Sans", sans-serif' font-size="12.3" font-weight="normal" text-anchor="middle" fill="#222">−1</text>
<path d="M630.80 1193.5v4.7M630.80 1217.1v-4.7" stroke="#fff" stroke-opacity="0.6" stroke-width="1"/>
<text transform="translate(630.80 1231.80) scale(1 1.05)" font-family='"Liberation Sans", sans-serif' font-size="12.3" font-weight="normal" text-anchor="middle" fill="#222">0</text>
<path d="M661.90 1193.5v4.7M661.90 1217.1v-4.7" stroke="#fff" stroke-opacity="0.6" stroke-width="1"/>
<text transform="translate(661.90 1231.80) scale(1 1.05)" font-family='"Liberation Sans", sans-serif' font-size="12.3" font-weight="normal" text-anchor="middle" fill="#222">1</text>
<path d="M693.10 1193.5v4.7M693.10 1217.1v-4.7" stroke="#fff" stroke-opacity="0.6" stroke-width="1"/>
<text transform="translate(693.10 1231.80) scale(1 1.05)" font-family='"Liberation Sans", sans-serif' font-size="12.3" font-weight="normal" text-anchor="middle" fill="#222">2</text>
</svg>
</body></html>
